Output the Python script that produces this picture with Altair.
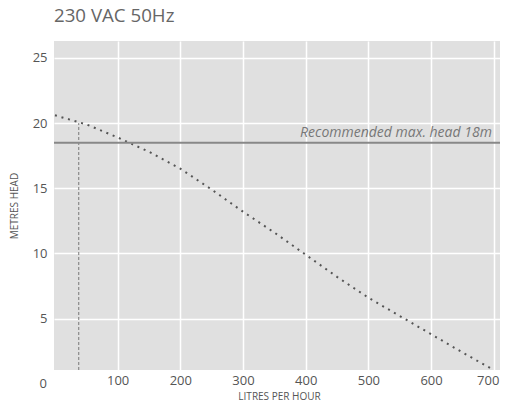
import altair as alt
import pandas as pd

# pump curve
flow = [0, 50, 100, 150, 200, 250, 300, 350, 400, 450, 500, 550, 600, 650, 700]
head = [20.6, 19.9, 18.9, 17.8, 16.5, 14.9, 13.2, 11.6, 9.9, 8.2, 6.6, 5.2, 3.8, 2.4, 1.05]

max_head = [18.5]
max_label = ["Recommended max. head 18m"]
max_label_x = [697]

marker_flow = [38]
marker_head = [20.0]

x_domain = [-1.5, 710]
y_domain = [1.05, 26.3]
x_ticks = [100, 200, 300, 400, 500, 600, 700]
y_ticks = [5, 10, 15, 20, 25]
origin_label = ["0"]
origin_value = [0]

FONT = "Open Sans"

curve_df = pd.DataFrame({"flow": flow, "head": head})
rule_df = pd.DataFrame({"head": max_head})
label_df = pd.DataFrame({"flow": max_label_x, "head": max_head, "text": max_label})
marker_df = pd.DataFrame({"flow": marker_flow, "head": [y_domain[0]], "top": marker_head})
origin_df = pd.DataFrame({"flow": [x_domain[0]], "head": origin_value, "text": origin_label})

xs = alt.Scale(domain=x_domain, nice=False, zero=False)
ys = alt.Scale(domain=y_domain, nice=False, zero=False)

x_axis = alt.Axis(
    title="LITRES PER HOUR", values=x_ticks, grid=True, gridColor="white", gridWidth=1.5,
    ticks=False, domain=False, labelFontSize=13, labelColor="#555", labelFont=FONT,
    labelPadding=4, labelOffset=alt.condition("datum.value === 700", alt.value(-6), alt.value(0)),
    titleFontSize=10, titleFontWeight="normal", titleColor="#555",
    titleFont=FONT, titleY=26, titleBaseline="middle", titleX=225,
)
y_axis = alt.Axis(
    title="METRES HEAD", values=y_ticks, grid=True, gridColor="white", gridWidth=1.5,
    ticks=False, domain=False, labelFontSize=13, labelColor="#555", labelFont=FONT,
    labelPadding=7, titleFontSize=10, titleFontWeight="normal", titleColor="#555",
    titleFont=FONT, titleX=-40, titleY=164.5, titleAngle=270, titleAlign="center",
    titleBaseline="middle",
)

X = alt.X("flow:Q", scale=xs, axis=x_axis)
Y = alt.Y("head:Q", scale=ys, axis=y_axis)

curve = alt.Chart(curve_df).mark_line(
    strokeDash=[2, 4.8], strokeWidth=2, color="#555"
).encode(x=X, y=Y)

marker = alt.Chart(marker_df).mark_rule(color="#777", strokeWidth=1, strokeDash=[3, 2]).encode(
    x=X, y=Y, y2="top:Q",
)

rule = alt.Chart(rule_df).mark_rule(color="#888", strokeWidth=2).encode(y=Y)

label = alt.Chart(label_df).mark_text(
    align="right", baseline="alphabetic", dy=-6, fontStyle="italic",
    fontSize=14, color="#777", font=FONT,
).encode(x=X, y=Y, text="text:N")

origin = alt.Chart(origin_df).mark_text(
    align="right", baseline="middle", dx=-7, fontSize=13, color="#555", font=FONT,
).encode(x=X, y=Y, text="text:N")

chart = alt.layer(curve, marker, rule, label, origin).properties(
    width=446,
    height=329,
    autosize=alt.AutoSizeParams(type="none"),
    padding={"left": 46, "top": 33, "right": 0, "bottom": 31},
    title=alt.TitleParams(
        "230 VAC 50Hz", anchor="start", frame="group", fontSize=18.7,
        fontWeight="normal", color="#666", font=FONT, baseline="alphabetic", offset=0,
    ),
).configure_view(fill="#e0e0e0", strokeWidth=0)

chart.save("out.html", embed_options={"renderer": "svg", "actions": False})
